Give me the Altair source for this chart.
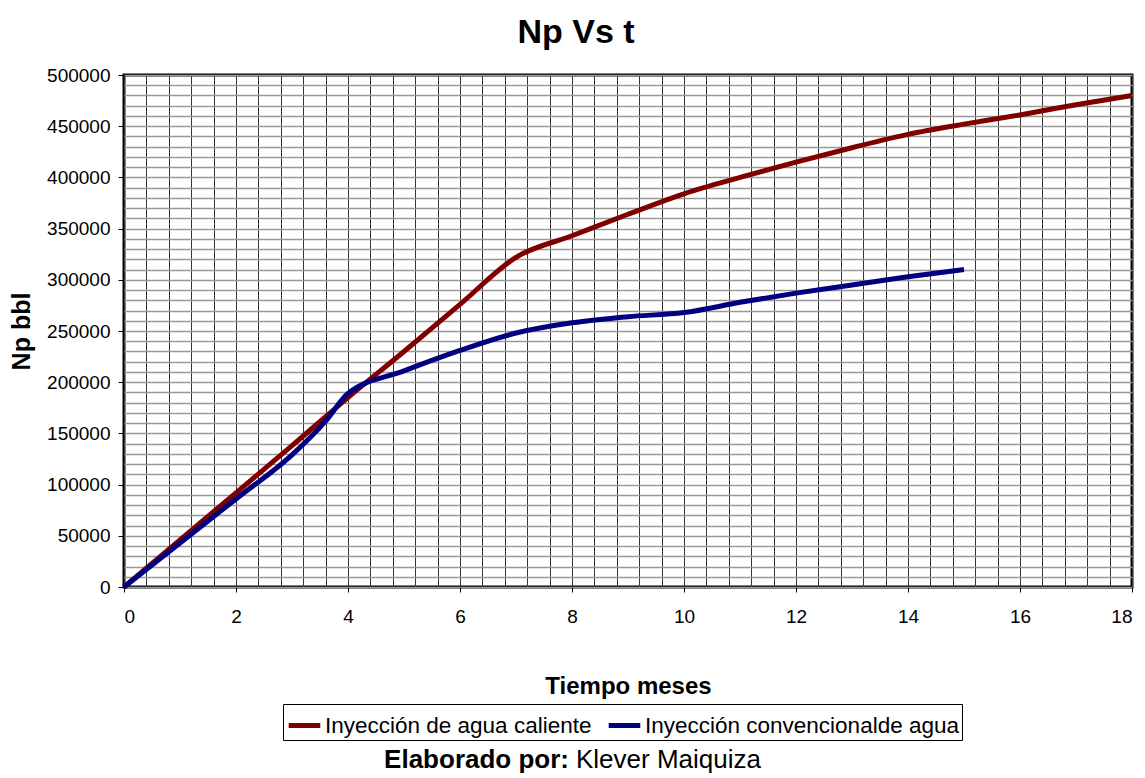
import altair as alt
import pandas as pd

# ---- data ----
t_hot = [0, 1, 2, 3, 4, 5, 6, 7, 8, 9, 10, 11, 12, 13, 14, 15, 16, 17, 18]
np_hot = [0, 46000, 92000, 138000, 185000, 230000, 276000, 322000, 343000, 364000,
          384000, 400000, 415000, 429000, 442000, 452000, 461000, 471000, 480000]
t_conv = [0, 1, 2, 3, 3.6, 4, 5, 6, 7, 8, 9, 10, 11, 12, 13, 14, 15]
np_conv = [0, 43000, 86000, 129000, 162000, 189000, 211000, 231000, 248000, 258000,
           264000, 268000, 278000, 287000, 295000, 303000, 310000]
series_names = ["Inyección de agua caliente", "Inyección convencionalde agua"]
series_colors = ["#800000", "#000080"]
x_major = list(range(0, 19, 2))
x_grid = [round(i * 0.4, 1) for i in range(0, 46)]
y_major = list(range(0, 500001, 50000))
y_grid = list(range(0, 500001, 10000))
caption_bold = "Elaborado por:"
caption_name = "Klever Maiquiza"

df = pd.concat([
    pd.DataFrame({"t": t_hot, "Np": np_hot, "serie": series_names[0]}),
    pd.DataFrame({"t": t_conv, "Np": np_conv, "serie": series_names[1]}),
])
cap_df = pd.DataFrame({"bold": [caption_bold], "name": [caption_name]})

FONT = "Liberation Sans"
xs = alt.Scale(domain=[0, 18], nice=False, zero=True)
ys = alt.Scale(domain=[0, 500000], nice=False, zero=True)

grid_layer = alt.Chart(df).mark_line(opacity=0).encode(
    x=alt.X("t:Q", scale=xs, axis=alt.Axis(values=x_grid, grid=True, labels=False, ticks=False,
                                           domain=False, title=None, orient="bottom",
                                           gridColor="#333333", gridWidth=1, gridOpacity=1)),
    y=alt.Y("Np:Q", scale=ys, axis=alt.Axis(values=y_grid, grid=True, labels=False, ticks=False,
                                            domain=False, title=None, orient="left",
                                            gridColor="#999999", gridWidth=1.5, gridOpacity=1)),
    detail="serie:N",
)

lines = alt.Chart(df).mark_line(strokeWidth=5, interpolate="monotone").encode(
    x=alt.X("t:Q", scale=xs, axis=alt.Axis(values=x_major, grid=False, orient="bottom",
                                           title="Tiempo meses", domain=False,
                                           tickSize=5, tickColor="black", tickWidth=1,
                                           labelFontSize=19, labelFont=FONT, labelColor="black",
                                           labelPadding=15,
                                           titleFont=FONT, titleFontSize=24, titleFontWeight="bold",
                                           titleColor="black", titlePadding=48)),
    y=alt.Y("Np:Q", scale=ys, axis=alt.Axis(values=y_major, grid=False, orient="left",
                                            title="Np bbl", format="d", domain=False,
                                            tickSize=6, tickColor="black", tickWidth=1,
                                            labelFontSize=19, labelFont=FONT, labelColor="black",
                                            labelPadding=8,
                                            titleFont=FONT, titleFontSize=25, titleFontWeight="bold",
                                            titleColor="black", titlePadding=12)),
    color=alt.Color("serie:N", scale=alt.Scale(domain=series_names, range=series_colors),
                    legend=alt.Legend(title=None, orient="none", legendX=159, legendY=629,
                                      direction="horizontal", symbolType="stroke",
                                      symbolStrokeWidth=5, symbolSize=1000,
                                      labelFont=FONT, labelFontSize=22.5, labelColor="black",
                                      labelLimit=0, labelOffset=2, columnPadding=6,
                                      strokeColor="black", padding=3, fillColor="white")),
)

cap1 = alt.Chart(cap_df).mark_text(align="right", baseline="alphabetic", font=FONT,
                                   fontSize=26, fontWeight="bold", color="black").encode(
    x=alt.value(445), y=alt.value(693), text="bold:N")
cap2 = alt.Chart(cap_df).mark_text(align="left", baseline="alphabetic", font=FONT,
                                   fontSize=26, color="black").encode(
    x=alt.value(452), y=alt.value(693), text="name:N")

chart = alt.layer(grid_layer, lines, cap1, cap2).resolve_axis(
    x="independent", y="independent"
).properties(
    width=1008, height=512,
    title=alt.TitleParams("Np Vs t", font=FONT, fontSize=34, fontWeight="bold", color="black",
                          anchor="middle", frame="group", offset=16, dx=-52),
    autosize=alt.AutoSizeParams(type="none"),
    padding={"left": 124, "top": 75, "right": 13, "bottom": 191},
    background="white",
).configure_view(stroke="black", strokeWidth=3)

chart.save("out.html", embed_options={"renderer": "svg", "actions": False})
